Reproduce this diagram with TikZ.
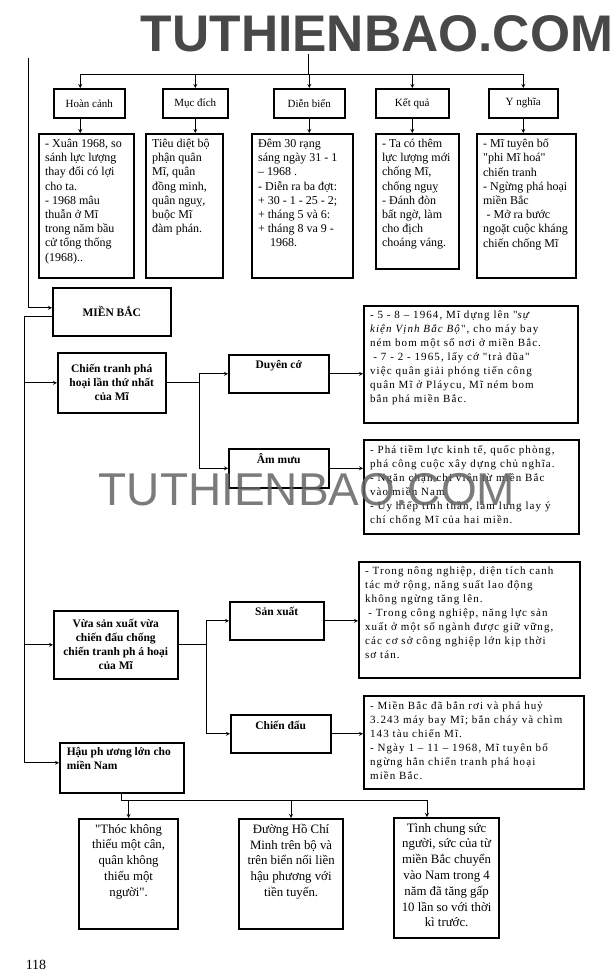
\documentclass[tikz,border=0pt]{standalone}
\usepackage{fontspec}
\setmainfont{Liberation Serif}[Ligatures=TeXOff]
\newfontfamily\wmfont{Liberation Sans}
\newfontfamily\spacedfont[LetterSpace=10,Ligatures=TeXOff]{Liberation Serif}
\usetikzlibrary{positioning}
\definecolor{wmdark}{RGB}{72,72,72}
\definecolor{wmgray}{RGB}{100,100,100}
\newcommand{\inbox}[3]{\parbox[c][#2][t]{#1}{#3}}

\begin{document}
\begin{tikzpicture}[x=1pt,y=-1pt,>=stealth,
  head/.style={draw,line width=1.5pt,anchor=north west,inner sep=0pt,font=\fontsize{11}{14}\selectfont},
  label/.style={head,font=\bfseries\fontsize{11.5}{14}\selectfont},
  card/.style={draw,line width=2.2pt,anchor=north west,inner xsep=6pt,inner ysep=5pt,font=\fontsize{12}{14.2}\selectfont},
  detail/.style={card,font=\spacedfont\fontsize{11}{14}\selectfont},
  bottom/.style={card,font=\fontsize{12.8}{15.8}\selectfont},
  link/.style={line width=0.8pt}]
\fill[white] (0,0) rectangle (615,980);
\useasboundingbox (0,0) rectangle (615,980);

\node[font=\wmfont\bfseries\fontsize{51.5}{51.5}\selectfont,text=wmdark] (brand) at (377,34) {TUTHIENBAO.COM};

% top row
\node[head,minimum width=71pt,minimum height=29pt] (hc) at (53,88) {Hoàn cảnh};
\node[head,minimum width=65pt,minimum height=29pt] (md) at (162,88) {Mục đích};
\node[head,minimum width=71pt,minimum height=29pt] (db) at (273,88) {Diễn biến};
\node[head,minimum width=73pt,minimum height=29pt] (kq) at (375,88) {Kết quả};
\node[head,minimum width=69pt,minimum height=29pt] (yn) at (488,88) {Y nghĩa};

\node[card] (hcD) at (38,133) {\inbox{83pt}{134pt}{\raggedright - Xuân 1968, so\\ sánh lực lượng\\ thay đổi có lợi\\ cho ta.\\ - 1968 mâu\\ thuẫn ở Mĩ\\ trong năm bầu\\ cử tổng thống\\ (1968)..}};
\node[card] (mdD) at (145,133) {\inbox{65pt}{134pt}{\raggedright Tiêu diệt bộ\\ phận quân\\ Mĩ, quân\\ đồng minh,\\ quân nguỵ,\\ buộc Mĩ\\ đàm phán.}};
\node[card] (dbD) at (251,133) {\inbox{89pt}{134pt}{\raggedright Đêm 30 rạng\\ sáng ngày 31 - 1\\ – 1968 .\\ - Diễn ra ba đợt:\\ + 30 - 1 - 25 - 2;\\ + tháng 5 và 6:\\ + tháng 8 va 9 -\\ \hspace*{1em}1968.}};
\node[card] (kqD) at (375,133) {\inbox{71pt}{125pt}{\raggedright - Ta có thêm\\ lực lượng mới\\ chống Mĩ,\\ chống nguỵ\\ - Đánh đòn\\ bất ngờ, làm\\ cho địch\\ choáng váng.}};
\node[card] (ynD) at (476,133) {\inbox{87pt}{134pt}{\raggedright - Mĩ tuyên bố\\ "phi Mĩ hoá"\\ chiến tranh\\ - Ngừng phá hoại\\ miền Bắc\\ \hspace*{0.3em}- Mở ra bước\\ ngoặt cuộc kháng\\ chiến chống Mĩ}};

% north
\node[label,minimum width=118pt,minimum height=48pt] (mb) at (52,287) {MIỀN BẮC};
\node[label,align=center,minimum width=108pt,minimum height=60pt] (ct) at (57,352) {Chiến tranh phá\\ hoại lần thứ nhất\\ của Mĩ};
\node[label] (dc) at (228,354) {\inbox{100pt}{38pt}{\centering\vspace*{6pt}Duyên cớ}};
\node[label] (am) at (228,448) {\inbox{100pt}{39pt}{\centering\vspace*{5pt}Âm mưu}};
\node[detail] (dcD) at (363,305) {\inbox{202pt}{107pt}{\raggedright - 5 - 8 – 1964, Mĩ dựng lên "\textit{sự\\ kiện Vịnh Bắc Bộ}", cho máy bay\\ ném bom một số nơi ở miền Bắc.\\ \hspace*{0.3em}- 7 - 2 - 1965, lấy cớ "trả đũa"\\ việc quân giải phóng tiến công\\ quân Mĩ ở Pláycu, Mĩ ném bom\\ bắn phá miền Bắc.}};
\node[detail] (amD) at (363,439) {\inbox{203pt}{84pt}{\raggedright - Phá tiềm lực kinh tế, quốc phòng,\\ phá công cuộc xây dựng chủ nghĩa.\\ - Ngăn chặn chi viện từ miền Bắc\\ vào miền Nam\\ - Uy hiếp tinh thần, làm lung lay ý\\ chí chống Mĩ của hai miền.}};

\node[label,align=center,minimum width=124pt,minimum height=68pt] (vs) at (53,610) {Vừa sản xuất vừa\\ chiến đấu chống\\ chiến tranh ph á hoại\\ của Mĩ};
\node[label] (sx) at (229,601) {\inbox{94pt}{38pt}{\centering\vspace*{5pt}Sản xuất}};
\node[label] (cd) at (230,714) {\inbox{100pt}{38pt}{\centering\vspace*{6pt}Chiến đấu}};
\node[detail] (sxD) at (358,561) {\inbox{209pt}{106pt}{\raggedright - Trong nông nghiệp, diện tích canh\\ tác mở rộng, năng suất lao động\\ không ngừng tăng lên.\\ \hspace*{0.3em}- Trong công nghiệp, năng lực sản\\ xuất ở một số ngành được giữ vững,\\ các cơ sở công nghiệp lớn kịp thời\\ sơ tán.}};
\node[detail] (cdD) at (363,695) {\inbox{208pt}{83pt}{\raggedright - Miền Bắc đã bắn rơi và phá huỷ\\ 3.243 máy bay Mĩ; bắn cháy và chìm\\ 143 tàu chiến Mĩ.\\ - Ngày 1 – 11 – 1968, Mĩ tuyên bố\\ ngừng hẳn chiến tranh phá hoại\\ miền Bắc.}};
\node[label,inner xsep=7pt,inner ysep=5pt] (hp) at (59,742) {\inbox{110pt}{40pt}{\raggedright Hậu ph ương lớn cho\\ miền Nam}};

% south
\node[bottom] (b1) at (78,818) {\inbox{87pt}{100pt}{\centering "Thóc không\\ thiếu một cân,\\ quân không\\ thiếu một\\ người".}};
\node[bottom] (b2) at (238,818) {\inbox{92pt}{100pt}{\centering Đường Hồ Chí\\ Minh trên bộ và\\ trên biển nối liền\\ hậu phương với\\ tiền tuyến.}};
\node[bottom] (b3) at (393,817) {\inbox{93pt}{110pt}{\centering Tình chung sức\\ người, sức của từ\\ miền Bắc chuyển\\ vào Nam trong 4\\ năm đã tăng gấp\\ 10 lần so với thời\\ kì trước.}};

\node[font=\fontsize{14}{14}\selectfont] (page) at (36,965) {118};

% connectors
\coordinate (feed) at (308,54);
\coordinate (bar) at (308,74);
\draw[link] (feed) -- (bar);
\draw[link] ([xshift=-9pt]hc.north |- bar) -- (yn.north |- bar);
\draw[link,->] ([xshift=-9pt]hc.north |- bar) -- ([xshift=-9pt]hc.north);
\foreach \n in {md,db,kq,yn}
  \draw[link,->] (\n.north |- bar) -- (\n.north);
\draw[link,->] ([xshift=-9pt]hc.south) -- ([xshift=-9pt]hc.south |- hcD.north);
\foreach \a/\b in {md/mdD,db/dbD,kq/kqD,yn/ynD}
  \draw[link,->] (\a.south) -- (\a.south |- \b.north);

\coordinate (rail) at (28,58);
\draw[link,->] (rail) |- ([yshift=4pt]mb.west);
\coordinate (spine) at (24,316);
\draw[link] (mb.west |- spine) -- (spine);
\draw[link,->] (spine) |- ([yshift=5pt]hp.west);
\draw[link,->] (spine |- ct.west) -- (ct.west);
\draw[link,->] (spine |- vs.west) -- (vs.west);

\coordinate (fork1) at (199,0);
\draw[link] (ct.east) -- (ct.east -| fork1);
\draw[link,->] (ct.east -| fork1) |- (dc.west);
\draw[link,->] (ct.east -| fork1) |- (am.west);
\draw[link,->] (dc.east) -- (dc.east -| dcD.west);
\draw[link,->] (am.east) -- (am.east -| amD.west);

\coordinate (fork2) at (206,0);
\draw[link] (vs.east) -- (vs.east -| fork2);
\draw[link,->] (vs.east -| fork2) |- (sx.west);
\draw[link,->] (vs.east -| fork2) |- (cd.west);
\draw[link,->] (sx.east) -- (sx.east -| sxD.west);
\draw[link,->] (cd.east) -- (cd.east -| cdD.west);

\coordinate (drop) at (427,800);
\draw[link] (hp.south) |- (drop);
\draw[link,->] (b1.north |- drop) -- (b1.north);
\draw[link,->] (b2.north |- drop) -- (b2.north);
\draw[link,->] (drop) -- (drop |- b3.north);

\node[font=\wmfont\fontsize{46}{46}\selectfont,text=wmgray,opacity=0.85] (brand2) at (307,490) {TUTHIENBAO.COM};
\end{tikzpicture}
\end{document}
